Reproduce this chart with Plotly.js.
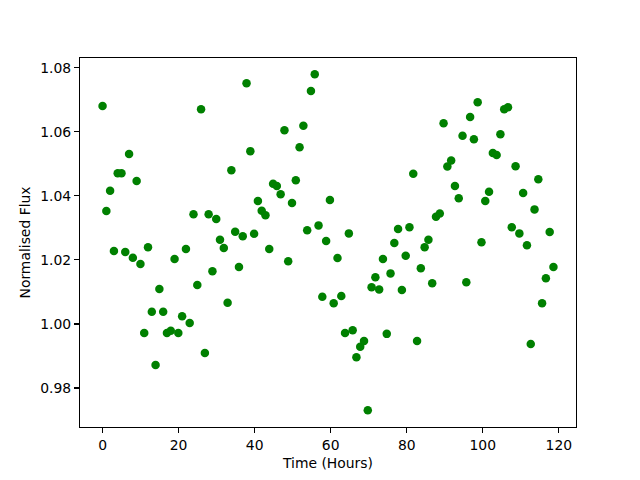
<!DOCTYPE html>
<html>
<head>
<meta charset="utf-8">
<script src="https://cdn.plot.ly/plotly-3.0.1.min.js"></script>
<style>html,body{margin:0;padding:0;background:#fff;}#chart{width:640px;height:480px;}</style>
</head>
<body>
<div id="chart"></div>
<script>
var timeHours = [0.00,1.00,1.99,2.99,3.99,4.98,5.98,6.98,7.97,8.97,9.97,10.96,11.96,12.96,13.95,14.95,15.95,16.94,17.94,18.94,19.93,20.93,21.93,22.92,23.92,24.92,25.91,26.91,27.90,28.90,29.90,30.89,31.89,32.89,33.88,34.88,35.88,36.87,37.87,38.87,39.86,40.86,41.86,42.85,43.85,44.85,45.84,46.84,47.84,48.83,49.83,50.83,51.82,52.82,53.82,54.81,55.81,56.81,57.80,58.80,59.80,60.79,61.79,62.79,63.78,64.78,65.78,66.77,67.77,68.77,69.76,70.76,71.76,72.75,73.75,74.75,75.74,76.74,77.73,78.73,79.73,80.72,81.72,82.72,83.71,84.71,85.71,86.70,87.70,88.70,89.69,90.69,91.69,92.68,93.68,94.68,95.67,96.67,97.67,98.66,99.66,100.66,101.65,102.65,103.65,104.64,105.64,106.64,107.63,108.63,109.63,110.62,111.62,112.62,113.61,114.61,115.60,116.60,117.60,118.59];
var normFlux = [1.0681,1.0353,1.0416,1.0228,1.0471,1.0471,1.0225,1.0531,1.0207,1.0447,
  1.0187,0.9972,1.0240,1.0038,0.9872,1.0109,1.0038,0.9972,0.9979,1.0203,
  0.9972,1.0024,1.0234,1.0003,1.0343,1.0122,1.0671,0.9909,1.0343,1.0165,
  1.0328,1.0263,1.0237,1.0066,1.0480,1.0288,1.0178,1.0274,1.0752,1.0540,
  1.0282,1.0384,1.0354,1.0340,1.0234,1.0438,1.0431,1.0405,1.0605,1.0196,
  1.0378,1.0449,1.0552,1.0619,1.0293,1.0728,1.0780,1.0308,1.0085,1.0259,
  1.0387,1.0065,1.0206,1.0087,0.9972,1.0283,0.9980,0.9896,0.9929,0.9947,
  0.9730,1.0115,1.0146,1.0108,1.0203,0.9969,1.0158,1.0253,1.0297,1.0106,
  1.0213,1.0302,1.0469,0.9947,1.0174,1.0240,1.0263,1.0127,1.0335,1.0345,
  1.0627,1.0492,1.0511,1.0431,1.0393,1.0588,1.0130,1.0647,1.0577,1.0693,
  1.0255,1.0384,1.0413,1.0534,1.0528,1.0593,1.0671,1.0677,1.0302,1.0493,
  1.0283,1.0409,1.0246,0.9937,1.0358,1.0452,1.0065,1.0143,1.0287,1.0178];
var xTickVals = [0,20,40,60,80,100,120];
var yTickVals = [0.98,1.00,1.02,1.04,1.06,1.08];

var font = {family: 'DejaVu Sans', size: 13.9, color: '#000'};
var trace = {
  x: timeHours, y: normFlux, type: 'scatter', mode: 'markers',
  marker: {color: '#008000', size: 8.5, line: {width: 0}},
  hoverinfo: 'none'
};
var layout = {
  width: 640, height: 480,
  margin: {l: 80, r: 64, t: 58, b: 53},
  paper_bgcolor: '#fff', plot_bgcolor: '#fff',
  font: font,
  showlegend: false,
  xaxis: {
    range: [-5.93, 124.52], tickvals: xTickVals, ticks: 'outside', ticklen: 5, tickwidth: 1.1, tickcolor: '#000',
    showline: true, mirror: true, linecolor: '#000', linewidth: 1.1, showgrid: false, zeroline: false,
    title: {text: 'Time (Hours)', font: font, standoff: 6}, tickfont: font
  },
  yaxis: {
    range: [0.9678, 1.0831], tickvals: yTickVals, tickformat: '.2f', ticks: 'outside', ticklen: 5, tickwidth: 1.1, tickcolor: '#000',
    showline: true, mirror: true, linecolor: '#000', linewidth: 1.1, showgrid: false, zeroline: false,
    title: {text: 'Normalised Flux', font: font, standoff: 6}, tickfont: font
  }
};
Plotly.newPlot('chart', [trace], layout, {staticPlot: true, displayModeBar: false});
</script>
</body>
</html>
